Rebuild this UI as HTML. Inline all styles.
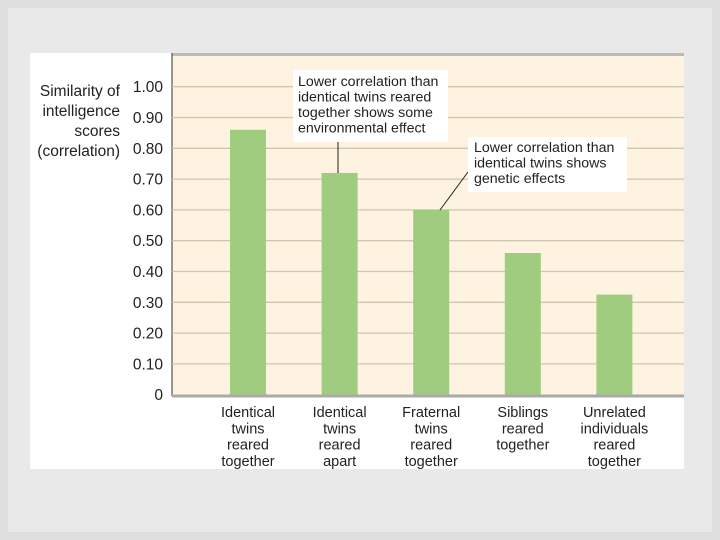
<!DOCTYPE html>
<html><head><meta charset="utf-8"><style>
body{margin:0;width:720px;height:540px;background:#dedede;font-family:"Liberation Sans",sans-serif;overflow:hidden}
#frame{position:absolute;left:8px;top:8px;width:704px;height:524px;background:#e9e9e9}
svg{position:absolute;left:0;top:0}
text{font-family:"Liberation Sans",sans-serif;fill:#222}
</style></head><body>
<div id="frame"></div>
<svg id="chart" width="720" height="540">
<rect x="30" y="53" width="654" height="416" fill="#fff"/>
<rect x="172" y="53" width="512" height="343" fill="#fdf3e0"/>
<line x1="172" y1="54.5" x2="684" y2="54.5" stroke="#bbb" stroke-width="3"/>
<line x1="172" y1="53" x2="172" y2="396" stroke="#333" stroke-width="1"/>
<g id="grid"></g><g id="bars"></g><g id="labels"></g>
<line x1="172" y1="396" x2="684" y2="396" stroke="#aaa" stroke-width="3"/>
<g font-size="15.5" text-anchor="end">
<text x="120" y="96">Similarity of</text><text x="120" y="116">intelligence</text><text x="120" y="136">scores</text><text x="120" y="156">(correlation)</text>
</g>
<g>
<line x1="338" y1="142" x2="338" y2="173" stroke="#222"/>
<rect x="293" y="70" width="155" height="72" fill="#fff"/>
<g font-size="14.2"><text x="298" y="86">Lower correlation than</text><text x="298" y="101.5">identical twins reared</text><text x="298" y="117">together shows some</text><text x="298" y="132.5">environmental effect</text></g>
</g>
<g>
<line x1="468" y1="172" x2="440" y2="210" stroke="#222"/>
<rect x="468" y="137" width="159" height="55" fill="#fff"/>
<g font-size="14.2"><text x="474" y="152">Lower correlation than</text><text x="474" y="167.5">identical twins shows</text><text x="474" y="183">genetic effects</text></g>
</g>
</svg>
<script>
const categories=[["Identical","twins","reared","together"],["Identical","twins","reared","apart"],["Fraternal","twins","reared","together"],["Siblings","reared","together"],["Unrelated","individuals","reared","together"]];
const values=[0.86,0.72,0.60,0.46,0.325];
const ticks=[0,0.1,0.2,0.3,0.4,0.5,0.6,0.7,0.8,0.9,1.0];
const tickLabels=["0","0.10","0.20","0.30","0.40","0.50","0.60","0.70","0.80","0.90","1.00"];
const NS="http://www.w3.org/2000/svg";
const y=v=>394.7-v*308;
const x=i=>248+i*91.6;
function mk(t,a){const e=document.createElementNS(NS,t);for(const k in a)e.setAttribute(k,a[k]);return e;}
const grid=document.getElementById('grid'),bars=document.getElementById('bars'),labels=document.getElementById('labels');
ticks.forEach((t,i)=>{
 if(t>0){const l=mk('line',{x1:172,x2:684,y1:y(t),y2:y(t),stroke:'#cfc6b0','stroke-width':1.3});
 
 
 grid.appendChild(l);}
 const tx=mk('text',{x:163,y:y(t)+5.5,'text-anchor':'end','font-size':15.5});
 tx.textContent=tickLabels[i];
 
 
 labels.appendChild(tx);
});
values.forEach((v,i)=>{
 const r=mk('rect',{x:x(i)-18,y:y(v),width:36,height:y(0)-y(v),fill:'#9fcc7f'});
 
 
 bars.appendChild(r);
 const g=mk('text',{x:x(i),'text-anchor':'middle','font-size':14.5});
 
 
 categories[i].forEach((s,j)=>{const ts=mk('tspan',{x:x(i),y:417+j*16.3});ts.textContent=s;g.appendChild(ts);});
 labels.appendChild(g);
});
</script>
</body></html>
